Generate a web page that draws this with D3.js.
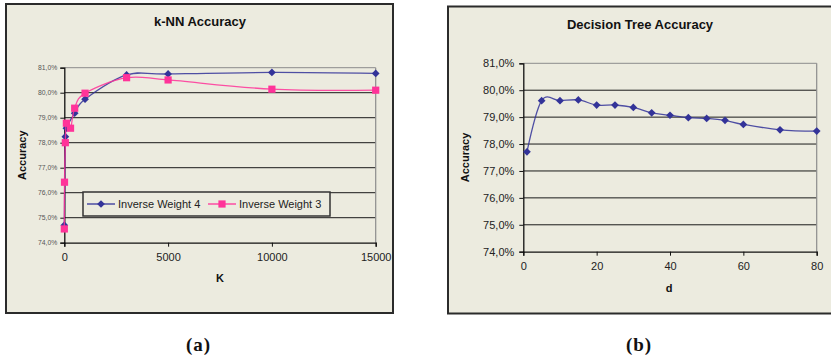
<!DOCTYPE html>
<html>
<head>
<meta charset="utf-8">
<script src="https://cdn.jsdelivr.net/npm/d3@7"></script>
<style>
  html, body { margin: 0; padding: 0; background: #fff; }
  svg { display: block; font-family: "Liberation Sans", Arial, sans-serif; }
</style>
</head>
<body>
<svg id="chart" width="831" height="358"></svg>
<script>
// k-NN accuracy for two inverse-distance weightings
const knnKW4 = [1, 50, 100, 500, 1000, 3000, 5000, 10000, 15000];
const knnAccW4 = [74.7, 78.24, 78.58, 79.18, 79.74, 80.71, 80.75, 80.81, 80.77];
const knnKW3 = [1, 10, 50, 100, 300, 500, 1000, 3000, 5000, 10000, 15000];
const knnAccW3 = [74.55, 76.42, 78.0, 78.78, 78.58, 79.38, 79.98, 80.6, 80.51, 80.14, 80.10];
const knnXTicks = [0, 5000, 10000, 15000];

// Decision tree accuracy by depth d
const treeD = [1, 5, 10, 15, 20, 25, 30, 35, 40, 45, 50, 55, 60, 70, 80];
const treeAcc = [77.71, 79.61, 79.61, 79.64, 79.45, 79.45, 79.36, 79.16, 79.07, 78.98, 78.95, 78.88, 78.73, 78.53, 78.48];
const treeXTicks = [0, 20, 40, 60, 80];

const accTicks = [74, 75, 76, 77, 78, 79, 80, 81];
const fmtPct = v => v.toFixed(1).replace(".", ",") + "%";

const svg = d3.select("#chart");
const BG = "#ECEBDF";
const NAVY = "#333399";
const PINK = "#FF3399";
const SANS = "'Liberation Sans', Arial, sans-serif";

// panel frames
svg.append("rect").attr("x", 6).attr("y", 4).attr("width", 387).attr("height", 309)
  .attr("fill", BG).attr("stroke", "#2b2b2b").attr("stroke-width", 2);
svg.append("rect").attr("x", 448).attr("y", 6.5).attr("width", 400).attr("height", 307)
  .attr("fill", BG).attr("stroke", "#2b2b2b").attr("stroke-width", 2);

const smooth = d3.curveCardinal.tension(0);

function panel(g, o) {
  const x = d3.scaleLinear().domain(o.xDomain).range([o.left, o.right]);
  const y = d3.scaleLinear().domain([74, 81]).range([o.bottom, o.top]);

  // gridlines
  g.append("g").selectAll("line").data(accTicks.slice(1)).join("line")
    .attr("x1", o.left).attr("x2", o.right)
    .attr("y1", d => y(d)).attr("y2", d => y(d))
    .attr("stroke", d => d === 81 ? "#8c8c8c" : "#1a1a1a").attr("stroke-width", 1);
  // right border
  g.append("line").attr("x1", o.right).attr("x2", o.right).attr("y1", o.top).attr("y2", o.bottom)
    .attr("stroke", "#8c8c8c").attr("stroke-width", 1.2);

  // axes
  const yAxis = d3.axisLeft(y).tickValues(accTicks).tickFormat(fmtPct).tickSize(4).tickPadding(o.yPad);
  const ya = g.append("g").attr("transform", `translate(${o.left},0)`).call(yAxis);
  ya.attr("font-family", SANS);
  ya.select(".domain").attr("stroke", "#111").attr("stroke-width", 1.3);
  ya.selectAll(".tick line").attr("stroke", "#111");
  ya.selectAll("text").attr("font-size", o.yFont).attr("fill", o.yColor);

  const xAxis = d3.axisBottom(x).tickValues(o.xTicks).tickFormat(d3.format("d")).tickSize(4).tickPadding(7);
  const xa = g.append("g").attr("transform", `translate(0,${o.bottom})`).call(xAxis);
  xa.attr("font-family", SANS);
  xa.select(".domain").attr("stroke", "#111").attr("stroke-width", 1.3);
  xa.selectAll(".tick line").attr("stroke", "#111");
  xa.selectAll("text").attr("font-size", 11).attr("fill", "#222");

  // titles
  g.append("text").attr("x", o.titleX).attr("y", o.titleY).attr("text-anchor", "middle")
    .attr("font-size", 13).attr("font-weight", "bold").attr("fill", "#111").text(o.title);
  g.append("text").attr("transform", `translate(${o.yLabelX},${(o.top + o.bottom) / 2}) rotate(-90)`)
    .attr("text-anchor", "middle").attr("font-size", 11).attr("font-weight", "bold").attr("fill", "#111")
    .text("Accuracy");
  g.append("text").attr("x", o.xLabelX).attr("y", o.xLabelY).attr("text-anchor", "middle")
    .attr("font-size", 11).attr("font-weight", "bold").attr("fill", "#111").text(o.xLabel);

  return { x, y };
}

function series(g, sc, xs, ys, color, shape, size) {
  const pts = xs.map((v, i) => [sc.x(v), sc.y(ys[i])]);
  g.append("path").attr("d", d3.line().curve(smooth)(pts))
    .attr("fill", "none").attr("stroke", color).attr("stroke-width", 1.3).attr("stroke-opacity", 0.85);
  g.append("g").selectAll("path").data(pts).join("path")
    .attr("transform", d => `translate(${d[0]},${d[1]})`)
    .attr("d", d3.symbol().type(shape).size(size)())
    .attr("fill", color);
}

// (a) k-NN
const ga = svg.append("g");
const sa = panel(ga, {
  xDomain: [0, 15000], xTicks: knnXTicks,
  left: 64.3, right: 375.7, top: 67.7, bottom: 242.7,
  yFont: 6.8, yColor: "#555", yPad: 3,
  title: "k-NN Accuracy", titleX: 200, titleY: 26,
  yLabelX: 26, xLabel: "K", xLabelX: 220, xLabelY: 282
});
series(ga, sa, knnKW4, knnAccW4, NAVY, d3.symbolDiamond2, 38);
series(ga, sa, knnKW3, knnAccW3, PINK, d3.symbolSquare, 52);

// legend
const lg = ga.append("g");
lg.append("rect").attr("x", 83).attr("y", 192).attr("width", 247).attr("height", 24)
  .attr("fill", BG).attr("stroke", "#333").attr("stroke-width", 1.5);
[[NAVY, d3.symbolDiamond2, 38, "Inverse Weight 4", 87],
 [PINK, d3.symbolSquare, 52, "Inverse Weight 3", 208]].forEach(([c, sh, sz, label, x0]) => {
  lg.append("line").attr("x1", x0).attr("x2", x0 + 28).attr("y1", 204).attr("y2", 204)
    .attr("stroke", c).attr("stroke-width", 1.3);
  lg.append("path").attr("transform", `translate(${x0 + 14},204)`)
    .attr("d", d3.symbol().type(sh).size(sz)()).attr("fill", c);
  lg.append("text").attr("x", x0 + 31).attr("y", 208).attr("font-size", 11).attr("fill", "#222").text(label);
});

// (b) decision tree
const gb = svg.append("g");
const sb = panel(gb, {
  xDomain: [0, 80], xTicks: treeXTicks,
  left: 523.3, right: 816.7, top: 63.3, bottom: 251.7,
  yFont: 11, yColor: "#222", yPad: 5,
  title: "Decision Tree Accuracy", titleX: 640, titleY: 29,
  yLabelX: 469, xLabel: "d", xLabelX: 669, xLabelY: 292
});
series(gb, sb, treeD, treeAcc, NAVY, d3.symbolDiamond2, 38);

// captions
[["(a)", 198.5], ["(b)", 639]].forEach(([t, cx]) => {
  svg.append("text").attr("x", cx).attr("y", 351).attr("text-anchor", "middle")
    .style("font-family", "'Liberation Serif', 'Times New Roman', serif")
    .attr("font-size", 19).attr("font-weight", "bold").attr("letter-spacing", 1).attr("fill", "#111").text(t);
});
</script>
</body>
</html>
